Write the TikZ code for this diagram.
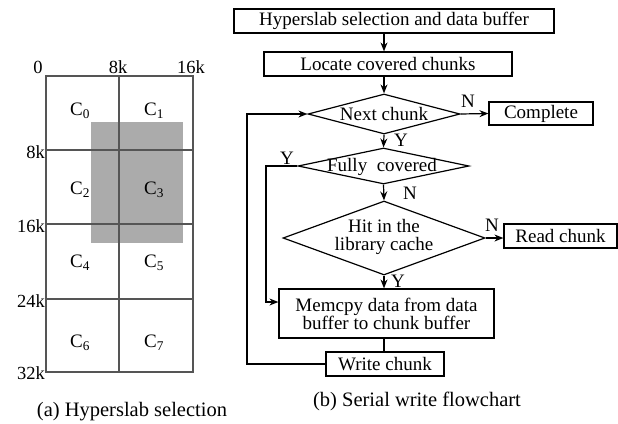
\documentclass[tikz,border=0pt]{standalone}
\usepackage{fontspec}
\setmainfont{Liberation Serif}
\usetikzlibrary{shapes.geometric,arrows.meta,calc}
\newcommand\fs{\fontsize{19}{18}\selectfont}
\newcommand\fcap{\fontsize{20.5}{22}\selectfont}
\newcommand\fax{\fontsize{18.5}{20}\selectfont}
\definecolor{gfill}{HTML}{ABABAB}
\definecolor{gline}{HTML}{555555}
\tikzset{
  box/.style={draw, line width=1.2pt, inner sep=0pt, minimum height=24pt, align=center},
  dia/.style={draw, diamond, line width=1.2pt, inner sep=0pt},
  arr/.style={-{Stealth[length=9pt,width=7pt,inset=3pt]}, line width=1.2pt},
  ln/.style={line width=1.2pt},
  lab/.style={inner sep=0pt},
  gl/.style={draw=gline, line width=1.5pt},
}
\begin{document}
\begin{tikzpicture}[x=1pt,y=-1pt,font=\fs]
\useasboundingbox (0,0) rectangle (618,423);
% ---- (a) grid
\fill[gfill] (91,122) rectangle (183,243);
\draw[gl] (46,76) rectangle (193,372);
\foreach \yy in {150,224,299} \draw[gl] (46,\yy) -- (193,\yy);
\draw[gl] (119,76) -- (119,372);
\node[lab,font=\fax] (t0) at (38,67) {0};
\node[lab,font=\fax] (t8) at (118,67) {8k};
\node[lab,font=\fax] (t16) at (191,67) {16k};
\node[lab,font=\fax,anchor=east] (l8) at (45,152) {8k};
\node[lab,font=\fax,anchor=east] (l16) at (45,226) {16k};
\node[lab,font=\fax,anchor=east] (l24) at (45,301) {24k};
\node[lab,font=\fax,anchor=east] (l32) at (45,373) {32k};
\node (c0) at (80,111) {C\textsubscript{0}};
\node (c1) at (154,111) {C\textsubscript{1}};
\node (c2) at (80,190) {C\textsubscript{2}};
\node (c3) at (154,190) {C\textsubscript{3}};
\node (c4) at (80,263) {C\textsubscript{4}};
\node (c5) at (154,263) {C\textsubscript{5}};
\node (c6) at (80,343) {C\textsubscript{6}};
\node (c7) at (154,343) {C\textsubscript{7}};
\node[lab,font=\fcap] (capa) at (132,412) {(a) Hyperslab selection};
% ---- (b) flowchart
\node[box, minimum width=320pt] (b1) at (394,21) {Hyperslab selection and data buffer};
\node[box, minimum width=248pt] (b2) at (388,64) {Locate covered chunks};
\node[dia, minimum width=152pt, minimum height=40pt] (nx) at (384,114) {};
\node[lab] (nxt) at (384,114) {Next chunk};
\node[dia, minimum width=171pt, minimum height=36pt] (fc) at (383.5,166) {};
\node[lab] (fct) at (382,167) {Fully~~covered};
\node[dia, minimum width=202pt, minimum height=74pt] (hit) at (384,238) {};
\node[lab, align=center] (hitt) at (384,237) {Hit in the\\library cache};
\node[box, minimum width=215pt, minimum height=49pt] (mc) at (386.5,313.5) {Memcpy data from data\\buffer to chunk buffer};
\node[box, minimum width=118pt] (wc) at (385,364) {Write chunk};
\node[box, minimum width=104pt, minimum height=23pt] (cp) at (541,113.5) {Complete};
\node[box, minimum width=113pt] (rc) at (560.5,236) {Read chunk};
\coordinate (L1) at (247,0);
\coordinate (L2) at (266,0);
\coordinate (mcin) at ($(mc.west)+(0,-11.5)$);
\draw[arr] (b1.south -| nx.north) -- (b2.north -| nx.north);
\draw[arr] (b2.south -| nx.north) -- (nx.north);
\draw[arr] (nx.south) -- (fc.north);
\draw[arr] (fc.south) -- (hit.north);
\draw[arr] (hit.south) -- (mc.north -| hit.south);
\draw[ln] (mc.south -| hit.south) -- (wc.north -| hit.south);
\draw[arr] (nx.east) -- (cp.west);
\draw[arr] (hit.east) -- (rc.west |- hit.east);
\draw[arr] (wc.west) -- (wc.west -| L1) |- (nx.west);
\draw[arr] (fc.west) -- (fc.west -| L2) |- (mcin);
\node[lab] (y1) at (401,140) {Y};
\node[lab] (n1) at (468,101) {N};
\node[lab] (y2) at (287,158) {Y};
\node[lab] (n2) at (410,193) {N};
\node[lab] (n3) at (492,225) {N};
\node[lab] (y3) at (398,281) {Y};
\node[lab,font=\fcap] (capb) at (417,401) {(b) Serial write flowchart};
\end{tikzpicture}
\end{document}
